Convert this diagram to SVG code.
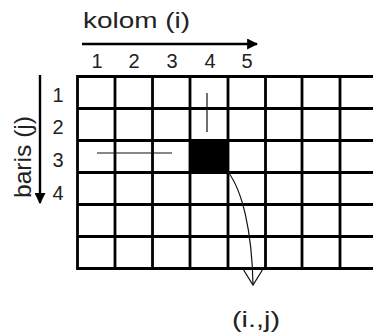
<svg xmlns="http://www.w3.org/2000/svg" width="373" height="332" viewBox="0 0 373 332">
<style>
.t{font-family:"Liberation Sans",Arial,sans-serif;fill:#222}
.g{stroke:#000;stroke-width:2.8;fill:none}
.thin{stroke:#111;stroke-width:1.2;fill:none}
</style>
<defs>
<marker id="ah" viewBox="0 0 10 10" refX="9" refY="5" markerWidth="11" markerHeight="11" markerUnits="userSpaceOnUse" orient="auto">
<path d="M0,0 L10,5 L0,10 Z" fill="#000"/>
</marker>
</defs>
<rect width="373" height="332" fill="#fff"/>
<g id="grid">
<path class="g" d="M77,76.5H373M77,108.5H373M77,140.5H373M77,172.5H373M77,204.5H373M77,236.5H373M77,268.5H373"/>
<path class="g" d="M77.5,75V270M115,75V270M152.5,75V270M190,75V270M228,75V270M265.5,75V270M302,75V270M340,75V270"/>
<rect id="cell" x="190" y="140.5" width="38" height="32" fill="#000"/>
<path class="thin" d="M207,93V132"/>
<path class="thin" d="M97,153H172"/>
</g>
<g id="connectors">
<path d="M82,44H257" stroke="#000" stroke-width="2.4" marker-end="url(#ah)" fill="none"/>
<path d="M40,75V203" stroke="#000" stroke-width="2.4" marker-end="url(#ah)" fill="none"/>
<path class="thin" d="M228,172C242,190 252,230 253,285"/>
<path class="thin" d="M243,269L253,285L263,269"/>
</g>
<g id="labels">
<text class="t" x="83" y="28" font-size="22" textLength="107" lengthAdjust="spacingAndGlyphs">kolom (i)</text>
<g font-size="20" text-anchor="middle">
<text class="t" x="97" y="68">1</text>
<text class="t" x="134" y="68">2</text>
<text class="t" x="172" y="68">3</text>
<text class="t" x="210" y="68">4</text>
<text class="t" x="247" y="68">5</text>
<text class="t" x="58" y="102">1</text>
<text class="t" x="58" y="134">2</text>
<text class="t" x="58" y="167">3</text>
<text class="t" x="58" y="200">4</text>
</g>
<text class="t" transform="translate(31,198) rotate(-90)" font-size="24" textLength="82" lengthAdjust="spacingAndGlyphs">baris (j)</text>
<text class="t" x="232" y="327" font-size="22" textLength="48" lengthAdjust="spacingAndGlyphs">(i.,j)</text>
</g>
</svg>
